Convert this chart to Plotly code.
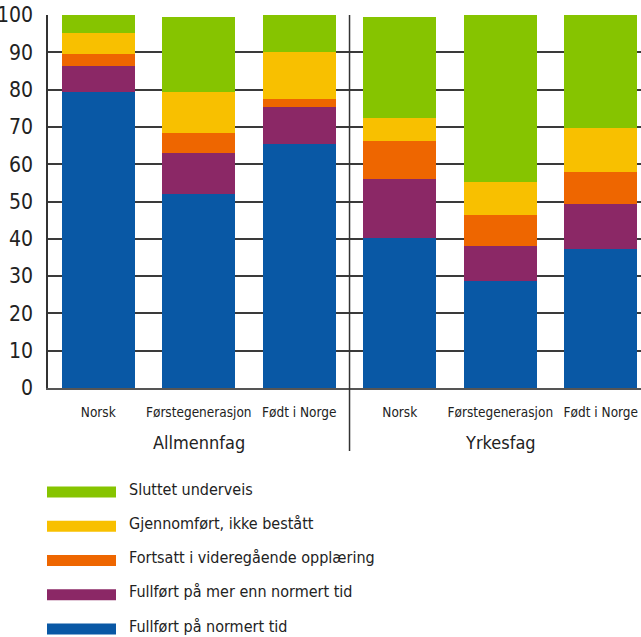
import plotly.graph_objects as go

# Completion status of upper secondary students, percent
groups = ["Allmennfag", "Yrkesfag"]
categories = ["Norsk", "Førstegenerasjon", "Født i Norge",
              "Norsk", "Førstegenerasjon", "Født i Norge"]

fullfort_normert = [79.4, 52.0, 65.5, 40.3, 28.6, 37.4]
fullfort_mer = [7.0, 11.1, 9.9, 15.8, 9.4, 11.8]
fortsatt = [3.2, 5.3, 2.1, 10.2, 8.3, 8.8]
ikke_bestatt = [5.6, 11.0, 12.6, 6.2, 9.0, 11.8]
sluttet = [4.8, 20.1, 9.9, 27.0, 44.7, 30.2]

series_names = ["Fullført på normert tid", "Fullført på mer enn normert tid",
                "Fortsatt i videregående opplæring", "Gjennomført, ikke bestått",
                "Sluttet underveis"]
series_values = [fullfort_normert, fullfort_mer, fortsatt, ikke_bestatt, sluttet]
series_colors = ["#0958A5", "#8B2866", "#EE6600", "#F8C000", "#86C400"]

y_ticks = [0, 10, 20, 30, 40, 50, 60, 70, 80, 90, 100]

FONT = "Liberation Sans Narrow, DejaVu Sans Condensed, Roboto Condensed, Roboto, sans-serif"
TEXT = "#222222"

W, H = 641, 637
ML, MR, MT, MB = 48, 0, 15, 249
PW, PH = W - ML - MR, H - MT - MB

positions = list(range(len(categories)))

fig = go.Figure()
for name, vals, col in zip(series_names, series_values, series_colors):
    fig.add_trace(go.Bar(x=positions, y=vals, name=name, marker_color=col,
                         marker_line_width=0, showlegend=False))


def px_x(p):
    return (p - ML) / PW


def px_y(p):
    return (H - MB - p) / PH


# group separator
fig.add_shape(type="line", xref="x", yref="paper", x0=2.5, x1=2.5,
              y0=1, y1=px_y(451), line=dict(color="#333333", width=1.5))

# group titles
for i, g in enumerate(groups):
    fig.add_annotation(x=3 * i + 1, y=px_y(443), xref="x", yref="paper",
                       text=g, showarrow=False, yanchor="middle",
                       font=dict(family=FONT, size=18, color=TEXT))

# legend, top item is the top of the stack
legend_top = 492
step = 34.25
for k, (name, col) in enumerate(zip(series_names[::-1], series_colors[::-1])):
    cy = legend_top + k * step
    fig.add_shape(type="rect", xref="paper", yref="paper",
                  x0=px_x(47), x1=px_x(116), y0=px_y(cy - 5.5), y1=px_y(cy + 5.5),
                  fillcolor=col, line_width=0)
    fig.add_annotation(x=px_x(127), y=px_y(cy - 3), xref="paper", yref="paper",
                       text=name, showarrow=False, xanchor="left", yanchor="middle",
                       font=dict(family=FONT, size=16, color=TEXT))

fig.update_layout(
    width=W, height=H,
    margin=dict(l=ML, r=MR, t=MT, b=MB, pad=0),
    barmode="stack", bargap=0.274,
    paper_bgcolor="white", plot_bgcolor="white",
    font=dict(family=FONT, color=TEXT),
    xaxis=dict(range=[-0.5, 5.4], tickvals=positions, ticktext=categories,
               showgrid=False, zeroline=False, showline=True, automargin=False,
               linecolor="#555555", linewidth=2, ticks="", tickangle=0,
               tickfont=dict(family=FONT, size=13.5, color=TEXT),
               ticklabelstandoff=11, ticklabeloverflow="allow"),
    yaxis=dict(range=[0, 100], tickvals=y_ticks, showgrid=True, automargin=False,
               gridcolor="#3a3a3a", gridwidth=1.5, zeroline=False,
               showline=True, linecolor="#333333", linewidth=1.5, ticks="",
               tickfont=dict(family=FONT, size=21, color=TEXT),
               ticklabelstandoff=9),
)

fig.write_html("out.html")
